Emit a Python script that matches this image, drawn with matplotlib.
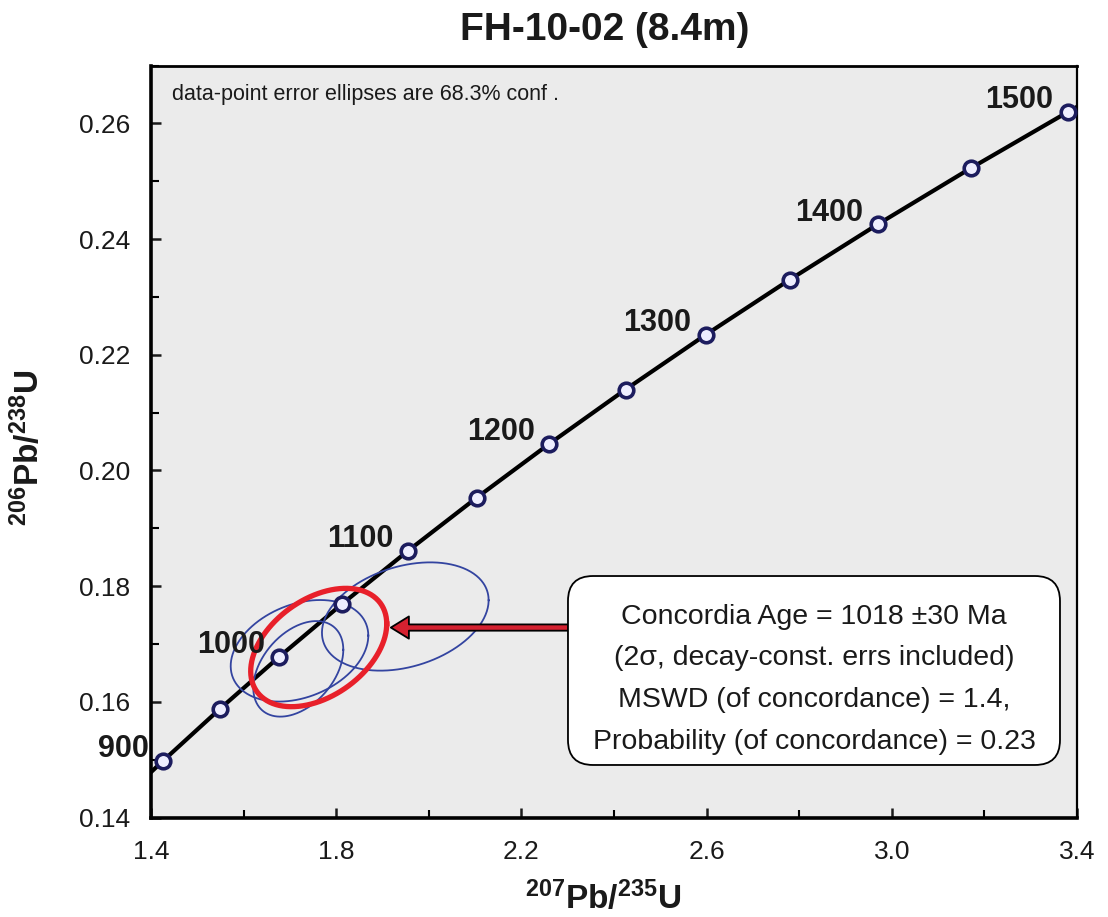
import numpy as np
import matplotlib
matplotlib.use('Agg')
import matplotlib.pyplot as plt
from matplotlib.patches import FancyBboxPatch
from matplotlib.ticker import FormatStrFormatter

plt.rcParams['font.family'] = ['Liberation Sans', 'DejaVu Sans']
plt.rcParams['mathtext.fontset'] = 'custom'
plt.rcParams['mathtext.rm'] = 'Liberation Sans'
plt.rcParams['mathtext.bf'] = 'Liberation Sans:bold'

# concordia markers every 50 Ma
ages = [900, 950, 1000, 1050, 1100, 1150, 1200, 1250, 1300, 1350, 1400, 1450, 1500]
pb207_u235 = [1.4263, 1.5488, 1.6774, 1.8125, 1.9545, 2.1037, 2.2603,
              2.4249, 2.5977, 2.7793, 2.9700, 3.1704, 3.3808]
pb206_u238 = [0.14982, 0.15878, 0.16782, 0.17691, 0.18607, 0.19531, 0.20461,
              0.21399, 0.22344, 0.23297, 0.24257, 0.25225, 0.26200]
label_ages = [900, 1000, 1100, 1200, 1300, 1400, 1500]

# curve runs a bit past both ends (880 and 1520 Ma)
curve_x = [1.3790] + pb207_u235 + [3.4680]
curve_y = [0.14627] + pb206_u238 + [0.26591]

# data-point ellipses (centre, half extents, correlation)
ell_x = [1.9492, 1.7207, 1.7181]
ell_y = [0.17475, 0.16882, 0.16570]
ell_sx = [0.1800, 0.1486, 0.0972]
ell_sy = [0.00936, 0.00878, 0.00826]
ell_rho = [0.30, 0.30, 0.40]

# concordia age ellipse
conc_x, conc_y = 1.7622, 0.16939
conc_sx, conc_sy, conc_rho = 0.1469, 0.01023, 0.40

box_lines = ['Concordia Age = 1018 \u00b130 Ma',
             '(2\u03c3, decay-const. errs included)',
             'MSWD (of concordance) = 1.4,',
             'Probability (of concordance) = 0.23']

x_major = [1.4, 1.8, 2.2, 2.6, 3.0, 3.4]
x_minor = [1.6, 2.0, 2.4, 2.8, 3.2]
y_major = [0.14, 0.16, 0.18, 0.20, 0.22, 0.24, 0.26]
y_minor = [0.15, 0.17, 0.19, 0.21, 0.23, 0.25, 0.27]


def ellipse_pts(cx, cy, sx, sy, rho):
    t = np.linspace(0, 2 * np.pi, 300)
    ex = cx + sx * np.cos(t)
    ey = cy + sy * (rho * np.cos(t) + np.sqrt(1 - rho ** 2) * np.sin(t))
    return ex, ey


fig = plt.figure(figsize=(11.08, 9.17), dpi=100)
ax = fig.add_axes([0.1363, 0.1085, 0.8357, 0.8200])
ax.set_facecolor('#ebebeb')

ax.plot(curve_x, curve_y, color='black', lw=3, zorder=2, solid_capstyle='butt')

for i in range(len(ell_x)):
    ex, ey = ellipse_pts(ell_x[i], ell_y[i], ell_sx[i], ell_sy[i], ell_rho[i])
    ax.plot(ex, ey, color='#3344a0', lw=1.3, zorder=3)

ex, ey = ellipse_pts(conc_x, conc_y, conc_sx, conc_sy, conc_rho)
ax.plot(ex, ey, color='#e8202a', lw=3.8, zorder=4)

ax.plot(pb207_u235, pb206_u238, 'o', ms=10.5, mfc='#eeeeff', mec='#1c1c5e',
        mew=2.6, zorder=5, clip_on=False)

for a, x, y in zip(ages, pb207_u235, pb206_u238):
    if a in label_ages:
        ax.annotate(str(a), xy=(x, y), xytext=(-10.5, 8.4), textcoords='offset points',
                    ha='right', va='center', fontsize=22, fontweight='bold',
                    color='#1a1a1a', zorder=6, annotation_clip=False)

# arrow pointing at the concordia ellipse
ax.annotate('', xy=(1.918, 0.17284), xytext=(2.3006, 0.17284),
            arrowprops=dict(arrowstyle='simple,head_length=1.3,head_width=1.6,tail_width=0.45',
                            mutation_scale=10, fc='#d42130', ec='black', lw=1.3,
                            shrinkA=0, shrinkB=0), zorder=6)

# result box
px_x = 2.0 / 926
px_y = 0.13 / 752
box = FancyBboxPatch((2.3006, 0.14908), 1.0627, 0.03267,
                     boxstyle='round,pad=0,rounding_size=%f' % (25 * px_x),
                     mutation_aspect=px_y / px_x, fc='white', ec='black', lw=1.3, zorder=7)
ax.add_patch(box)
line_px = [617, 658, 700, 742]
for txt, yp in zip(box_lines, line_px):
    ax.text(2.832, 0.14 + (817.5 - yp) * px_y, txt, ha='center', va='center',
            fontsize=20.5, color='#1a1a1a', zorder=8)

ax.text(0.0227, 0.954, 'data-point error ellipses are 68.3% conf .', transform=ax.transAxes,
        ha='left', va='baseline', fontsize=15.5, color='#1a1a1a')

ax.set_xlim(1.4, 3.4)
ax.set_ylim(0.14, 0.27)
ax.set_xticks(x_major)
ax.set_xticks(x_minor, minor=True)
ax.set_yticks(y_major)
ax.set_yticks(y_minor, minor=True)
ax.xaxis.set_major_formatter(FormatStrFormatter('%.1f'))
ax.yaxis.set_major_formatter(FormatStrFormatter('%.2f'))
ax.tick_params(which='major', direction='in', length=7, width=1.8, labelsize=19,
               pad=15, colors='#1a1a1a')
ax.tick_params(which='minor', direction='in', length=5.5, width=1.5)
ax.tick_params(axis='x', pad=16)

ax.spines['left'].set_linewidth(2.6)
ax.spines['bottom'].set_linewidth(2.6)
ax.spines['top'].set_linewidth(2.0)
ax.spines['right'].set_linewidth(1.6)

fig.text(0.546, 0.967, 'FH-10-02 (8.4m)', ha='center', va='center',
         fontsize=28, fontweight='bold', color='#1a1a1a')
fig.text(0.544, 0.009, r'$\mathbf{^{207}Pb/^{235}U}$', ha='center', va='baseline',
         fontsize=24, color='#1a1a1a')
fig.text(0.0253, 0.5114, r'$\mathbf{^{206}Pb/^{238}U}$', ha='center', va='center',
         rotation=90, fontsize=24, color='#1a1a1a')

fig.savefig('out.png', dpi=100)
